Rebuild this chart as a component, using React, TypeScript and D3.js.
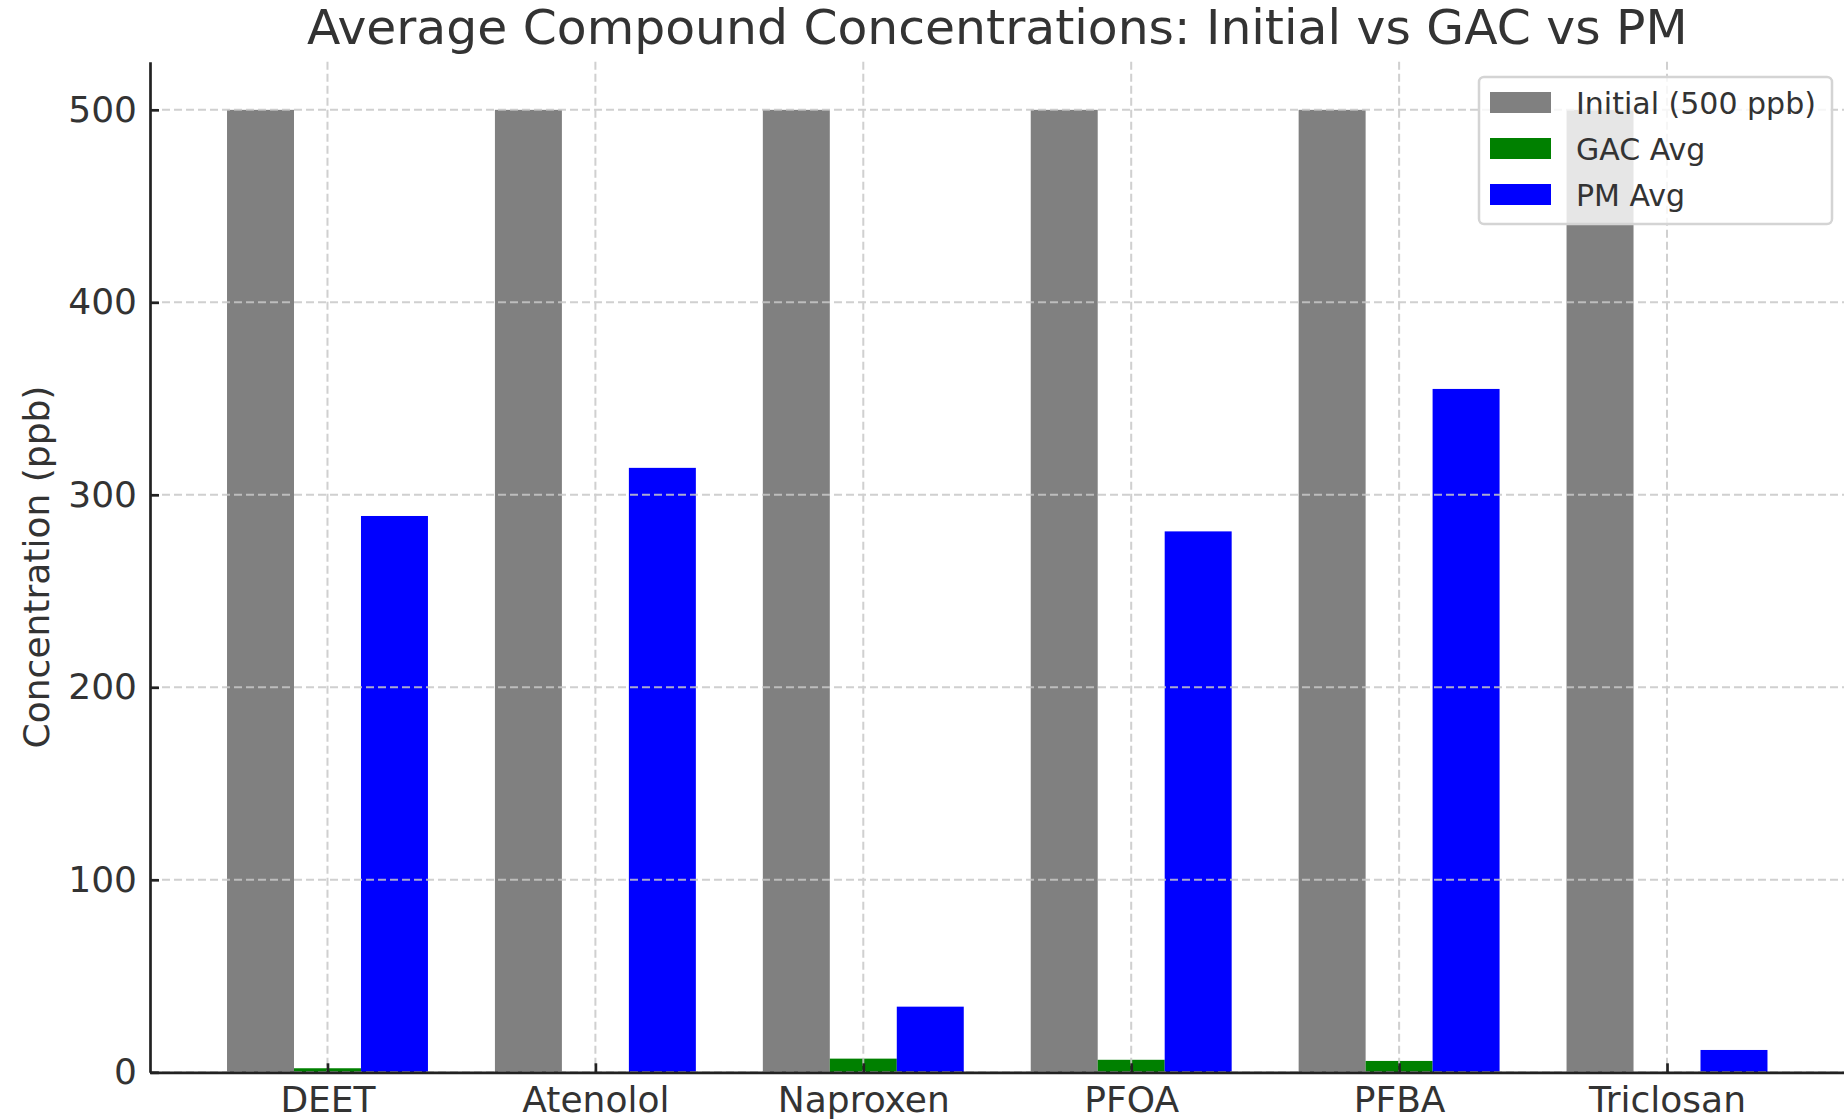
import React, { useRef, useEffect } from "react";
import * as d3 from "d3";

const categories = ["DEET", "Atenolol", "Naproxen", "PFOA", "PFBA", "Triclosan"];
const initialValues = [500, 500, 500, 500, 500, 500];
const gacValues = [2.1, 0, 7.1, 6.5, 5.9, 0];
const pmValues = [289, 314, 34.1, 281, 355, 11.6];
const yTicks = [0, 100, 200, 300, 400, 500];

const seriesNames = ["Initial (500 ppb)", "GAC Avg", "PM Avg"];
const seriesColors = ["#808080", "#008000", "#0000ff"];

const W = 1844;
const H = 1119;
const FONT = "'DejaVu Sans', sans-serif";
const TEXT = "#333333";

const App: React.FC = () => {
  const svgRef = useRef<SVGSVGElement>(null);

  useEffect(() => {
    const svg = d3.select(svgRef.current);
    svg.selectAll("*").remove();

    // matplotlib style: bars at i - w, i, i + w, w = 0.25, 5% x margins
    const barW = 0.25;
    const x = d3.scaleLinear().domain([-0.6625, 5.6625]).range([150, 1844.5]);
    const y = d3.scaleLinear().domain([0, 525]).range([1072.3, 61.7]);

    const series = [initialValues, gacValues, pmValues];
    const bw = x(barW) - x(0);

    // bars
    series.forEach((vals, s) => {
      svg.append("g")
        .selectAll("rect")
        .data(vals)
        .enter()
        .append("rect")
        .attr("x", (_, i) => x(i + (s - 1) * barW - barW / 2))
        .attr("y", d => y(d))
        .attr("width", bw)
        .attr("height", d => y(0) - y(d))
        .attr("fill", seriesColors[s]);
    });

    // grid (drawn above bars, like matplotlib)
    const grid = svg.append("g")
      .attr("stroke", "#c8c8c8")
      .attr("stroke-width", 2)
      .attr("stroke-dasharray", "8,4")
      .attr("opacity", 0.85);

    grid.selectAll("line.h")
      .data(yTicks)
      .enter()
      .append("line")
      .attr("x1", x.range()[0])
      .attr("x2", x.range()[1])
      .attr("y1", d => y(d))
      .attr("y2", d => y(d));

    grid.selectAll("line.v")
      .data(categories)
      .enter()
      .append("line")
      .attr("x1", (_, i) => x(i))
      .attr("x2", (_, i) => x(i))
      .attr("y1", y.range()[1])
      .attr("y2", y(0));

    // y axis
    const yAxis = svg.append("g")
      .attr("transform", `translate(${x.range()[0]},0)`)
      .call(d3.axisLeft(y).tickValues(yTicks).tickSizeInner(-9).tickSizeOuter(0).tickPadding(13));
    yAxis.select(".domain").attr("stroke", "#222").attr("stroke-width", 2.7);
    yAxis.selectAll(".tick line").attr("stroke", "#222").attr("stroke-width", 2.7);
    yAxis.selectAll(".tick text")
      .attr("font-family", FONT)
      .attr("font-size", 36)
      .attr("fill", TEXT)
      .attr("x", -13);

    // x axis
    const xAxis = svg.append("g")
      .attr("transform", `translate(0,${y(0)})`)
      .call(d3.axisBottom(x)
        .tickValues(categories.map((_, i) => i))
        .tickFormat((d) => categories[d as number])
        .tickSizeInner(-9)
        .tickSizeOuter(0));
    xAxis.select(".domain").attr("stroke", "#222").attr("stroke-width", 2.7);
    xAxis.selectAll(".tick line").attr("stroke", "#222").attr("stroke-width", 2.7);
    xAxis.selectAll(".tick text")
      .attr("font-family", FONT)
      .attr("font-size", 36)
      .attr("fill", TEXT)
      .attr("y", 13)
      .attr("dy", "0.73em");

    // y label
    svg.append("text")
      .attr("transform", `translate(49,${(y(0) + y.range()[1]) / 2}) rotate(-90)`)
      .attr("text-anchor", "middle")
      .attr("font-family", FONT)
      .attr("font-size", 36)
      .attr("fill", TEXT)
      .text("Concentration (ppb)");

    // title
    svg.append("text")
      .attr("x", (x.range()[0] + x.range()[1]) / 2)
      .attr("y", 44)
      .attr("text-anchor", "middle")
      .attr("font-family", FONT)
      .attr("font-size", 48.8)
      .attr("fill", TEXT)
      .text("Average Compound Concentrations: Initial vs GAC vs PM");

    // legend
    const legend = svg.append("g");
    legend.append("rect")
      .attr("x", 1479)
      .attr("y", 77)
      .attr("width", 353)
      .attr("height", 147)
      .attr("rx", 5)
      .attr("fill", "white")
      .attr("fill-opacity", 0.8)
      .attr("stroke", "#d4d4d4")
      .attr("stroke-width", 2.5);

    seriesNames.forEach((name, i) => {
      const cy = 102.5 + i * 46;
      legend.append("rect")
        .attr("x", 1490)
        .attr("y", cy - 10.5)
        .attr("width", 61)
        .attr("height", 21)
        .attr("fill", seriesColors[i]);
      legend.append("text")
        .attr("x", 1576)
        .attr("y", cy + 11)
        .attr("font-family", FONT)
        .attr("font-size", 30)
        .attr("fill", TEXT)
        .text(name);
    });
  }, []);

  return (
    <svg
      ref={svgRef}
      width={W}
      height={H}
      style={{ position: "absolute", left: 0, top: 0, background: "white" }}
    ></svg>
  );
};

export default App;
